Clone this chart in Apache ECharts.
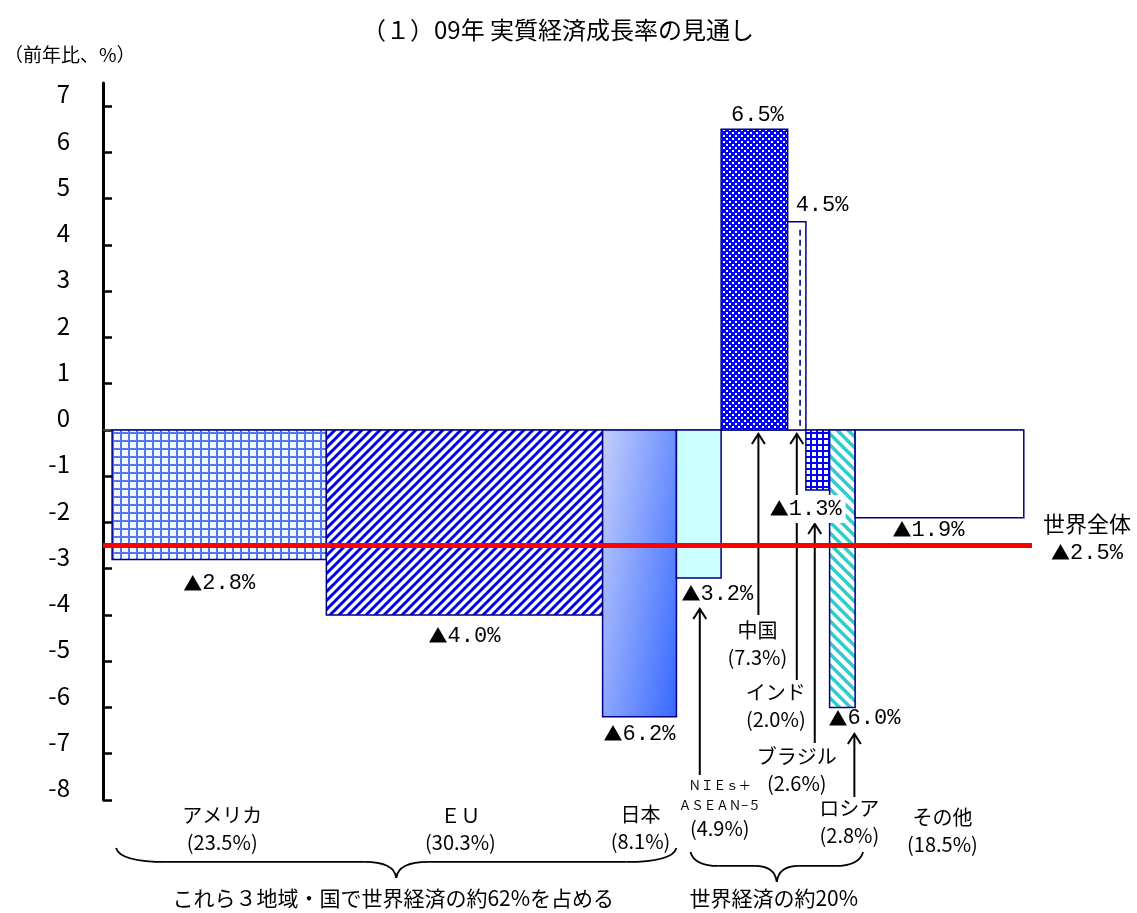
<!DOCTYPE html>
<html lang="ja">
<head>
<meta charset="utf-8">
<title>09年 実質経済成長率の見通し</title>
<script src="https://cdn.jsdelivr.net/npm/echarts@6/dist/echarts.min.js"></script>
<style>
  html, body { margin: 0; padding: 0; background: #fff; }
  #chart { width: 1137px; height: 913px; }
</style>
</head>
<body>
<div id="chart"></div>
<script>
  // データ
  const regions = ['アメリカ', 'ＥＵ', '日本', 'ＮＩＥｓ＋\nＡＳＥＡＮ−５', '中国', 'インド', 'ブラジル', 'ロシア', 'その他'];
  const shares = [23.5, 30.3, 8.1, 4.9, 7.3, 2.0, 2.6, 2.8, 18.5];     // 世界経済に占める割合（棒の幅）
  const growth = [-2.8, -4.0, -6.2, -3.2, 6.5, 4.5, -1.3, -6.0, -1.9];  // 09年 実質経済成長率
  const worldGrowth = -2.5;
  const yTicks = [-8, -7, -6, -5, -4, -3, -2, -1, 0, 1, 2, 3, 4, 5, 6, 7];
  const braceFrom = [0, 3];
  const braceTo = [2, 7];
  const braceText = ['これら３地域・国で世界経済の約62%を占める', '世界経済の約20%'];

  const JP = '"Noto Sans CJK JP", sans-serif';
  const MONO = '"Liberation Mono", "DejaVu Sans Mono", monospace';
  const NAVY = '#000080';

  // 塗りつぶしパターン
  function makePattern(size, draw) {
    const c = document.createElement('canvas');
    c.width = c.height = size;
    const ctx = c.getContext('2d');
    draw(ctx, size);
    return { image: c, repeat: 'repeat' };
  }
  const gridLight = makePattern(8, (ctx, s) => {
    ctx.fillStyle = '#f4f7ff'; ctx.fillRect(0, 0, s, s);
    ctx.fillStyle = '#4f78f2'; ctx.fillRect(0, 0, s, 2); ctx.fillRect(0, 0, 2, s);
  });
  const stripeUp = makePattern(9, (ctx, s) => {
    ctx.fillStyle = '#fff'; ctx.fillRect(0, 0, s, s);
    ctx.strokeStyle = '#0000ee'; ctx.lineWidth = 3;
    ctx.beginPath();
    ctx.moveTo(0, s); ctx.lineTo(s, 0);
    ctx.moveTo(-2, 2); ctx.lineTo(2, -2);
    ctx.moveTo(s - 2, s + 2); ctx.lineTo(s + 2, s - 2);
    ctx.stroke();
  });
  const stripeDown = makePattern(11, (ctx, s) => {
    ctx.fillStyle = '#fff'; ctx.fillRect(0, 0, s, s);
    ctx.strokeStyle = '#33cccc'; ctx.lineWidth = 3.5;
    ctx.beginPath();
    ctx.moveTo(0, 0); ctx.lineTo(s, s);
    ctx.moveTo(-2, s - 2); ctx.lineTo(2, s + 2);
    ctx.moveTo(s - 2, -2); ctx.lineTo(s + 2, 2);
    ctx.stroke();
  });
  const checker = makePattern(6, (ctx, s) => {
    ctx.fillStyle = '#0000ff'; ctx.fillRect(0, 0, s, s);
    ctx.fillStyle = '#ffffff'; ctx.fillRect(0, 0, 2, 2); ctx.fillRect(3, 3, 2, 2);
  });
  const gridDark = makePattern(6, (ctx, s) => {
    ctx.fillStyle = '#fff'; ctx.fillRect(0, 0, s, s);
    ctx.fillStyle = '#0000ff'; ctx.fillRect(0, 0, s, 2); ctx.fillRect(0, 0, 2, s);
  });
  // 日本：左上が淡く、右下が濃いグラデーション
  const gradJapan = {
    type: 'linear', x: 0, y: 0, x2: 1.62, y2: 0.07,
    colorStops: [{ offset: 0, color: '#c4cffb' }, { offset: 1, color: '#3366ff' }]
  };
  const fills = [gridLight, stripeUp, gradJapan, '#ccffff', checker, '#ffffff', gridDark, stripeDown, '#ffffff'];

  // ラベル・矢印の配置（px）
  // v: [dx, dy, 基準('c'=中央,'l'=左端), 白背景]   n: [dx, 1行目の中心 y(0線から)]   a: [dx, 下端, 先端]
  const layout = [
    { v: [0, 24, 'c'], n: [3, 385] },
    { v: [0, 21, 'c'], n: [-4, 385] },
    { v: [0, 17, 'c'], n: [1, 384] },
    { v: [5, 16, 'l'], n: [21, 355], a: [1, 345, 178] },
    { v: [3, -14, 'c'], n: [3, 200], a: [4, 185, 3] },
    { v: [8, -17, 'l'], n: [-21, 262], a: [0, 250, 3] },
    { v: [-12, 19, 'c', true], n: [-21, 326], a: [-3, 313, 93] },
    { v: [-1, 11, 'l'], n: [7, 378], a: [12, 367, 303] },
    { v: [-11, 12, 'c'], n: [3, 387] }
  ];

  const starts = [];
  let cum = 0;
  shares.forEach(s => { starts.push(cum); cum += s; });
  const barData = shares.map((s, i) => [starts[i], starts[i] + s, growth[i], i]);
  const braceData = braceFrom.map((f, k) => [starts[f], starts[braceTo[k]] + shares[braceTo[k]], k]);

  function fmtValue(v) {
    const num = Math.abs(v).toFixed(1) + '%';
    return v < 0 ? '{t|▲}{n|' + num + '}' : '{n|' + num + '}';
  }
  const valueRich = {
    t: { fontSize: 19, fontFamily: JP, fill: '#000' },
    n: { fontSize: 22, fontFamily: MONO, fill: '#000' }
  };

  function renderBar(params, api) {
    const i = api.value(3);
    const v = api.value(2);
    const p0 = api.coord([api.value(0), 0]);
    const p1 = api.coord([api.value(1), v]);
    const x = p0[0], w = p1[0] - p0[0];
    const y = Math.min(p0[1], p1[1]), h = Math.abs(p1[1] - p0[1]);
    const children = [{
      type: 'rect',
      shape: { x: x, y: y, width: w, height: h },
      style: { fill: fills[i], stroke: NAVY, lineWidth: 1.5 }
    }];
    if (i === 5) {
      // インド：点線
      const lx = x + w * 0.68;
      children.push({
        type: 'line',
        shape: { x1: lx, y1: y + 8, x2: lx, y2: y + h - 4 },
        style: { stroke: NAVY, lineWidth: 1.6, lineDash: [6, 4] }
      });
    }
    return { type: 'group', children: children };
  }

  function arrow(x, yBottom, yTip) {
    return [
      { type: 'line', shape: { x1: x, y1: yBottom, x2: x, y2: yTip + 1 }, style: { stroke: '#000', lineWidth: 2 } },
      { type: 'polyline', shape: { points: [[x - 6.5, yTip + 11], [x, yTip + 1], [x + 6.5, yTip + 11]] }, style: { stroke: '#000', lineWidth: 2, fill: null } }
    ];
  }

  function renderNotes(params, api) {
    const i = api.value(3);
    const v = api.value(2);
    const L = layout[i];
    const pL = api.coord([api.value(0), 0]);
    const pR = api.coord([api.value(1), v]);
    const zero = pL[1];
    const cx = (pL[0] + pR[0]) / 2;
    const children = [];
    if (L.a) arrow(cx + L.a[0], zero + L.a[1], zero + L.a[2]).forEach(e => children.push(e));

    // 成長率ラベル
    const vx = (L.v[2] === 'l' ? pL[0] : cx) + L.v[0];
    const valStyle = {
      text: fmtValue(v), rich: valueRich,
      align: L.v[2] === 'l' ? 'left' : 'center', verticalAlign: 'middle'
    };
    if (L.v[3]) { valStyle.backgroundColor = '#fff'; valStyle.padding = [3, 4, 3, 4]; }
    children.push({ type: 'text', x: vx, y: pR[1] + L.v[1], style: valStyle });

    // 地域名・シェア
    const name = regions[i];
    const share = '(' + shares[i].toFixed(1) + '%)';
    let txt, rich;
    if (name.indexOf('\n') >= 0) {
      txt = name.split('\n').map(s => '{s|' + s + '}').join('\n') + '\n{p|' + share + '}';
      rich = {
        s: { fontSize: 12.5, fontFamily: JP, fill: '#000', lineHeight: 20 },
        p: { fontSize: 20, fontFamily: JP, fill: '#000', lineHeight: 26 }
      };
      children.push({ type: 'text', x: cx + L.n[0], y: zero + L.n[1] - 10,
        style: { text: txt, rich: rich, align: 'center', verticalAlign: 'top' } });
    } else {
      txt = '{m|' + name + '}\n{p|' + share + '}';
      rich = {
        m: { fontSize: 20, fontFamily: JP, fill: '#000', lineHeight: 27 },
        p: { fontSize: 20, fontFamily: JP, fill: '#000', lineHeight: 27 }
      };
      children.push({ type: 'text', x: cx + L.n[0], y: zero + L.n[1] - 13.5,
        style: { text: txt, rich: rich, align: 'center', verticalAlign: 'top' } });
    }
    return { type: 'group', children: children };
  }

  function renderZero(params, api) {
    const a = api.coord([-1, 0]), b = api.coord([100, 0]);
    return { type: 'line', shape: { x1: a[0], y1: a[1], x2: b[0], y2: b[1] }, style: { stroke: '#555', lineWidth: 1.5 } };
  }

  function renderWorld(params, api) {
    const v = api.value(0);
    const a = api.coord([-1, v]), b = api.coord([100.9, v]);
    return {
      type: 'group',
      children: [
        { type: 'line', shape: { x1: a[0], y1: a[1], x2: b[0], y2: b[1] }, style: { stroke: '#ff0000', lineWidth: 5 } },
        { type: 'text', x: b[0] + 55, y: b[1] - 7, style: {
            text: '{w|世界全体}\n' + fmtValue(v),
            rich: { w: { fontSize: 22, fontFamily: JP, fill: '#000', lineHeight: 29 },
                    t: { fontSize: 19, fontFamily: JP, fill: '#000', lineHeight: 29 },
                    n: { fontSize: 22, fontFamily: MONO, fill: '#000', lineHeight: 29 } },
            align: 'center', verticalAlign: 'middle' } }
      ]
    };
  }

  function renderBrace(params, api) {
    const k = api.value(2);
    const p0 = api.coord([api.value(0), 0]);
    const p1 = api.coord([api.value(1), 0]);
    const zero = p0[1];
    const ins = k === 0 ? [4, 0] : [14, 8];
    const off = k === 0 ? 0 : 4;
    const x0 = p0[0] + ins[0], x1 = p1[0] + ins[1];
    const xm = (x0 + x1) / 2;
    const yTop = zero + 418 + off, yMid = zero + 432 + off, yTip = zero + 448 + off;
    const r = k === 0 ? 50 : 28, r2 = k === 0 ? 32 : 22;
    const st = { stroke: '#000', lineWidth: 1.8, fill: null };
    return {
      type: 'group',
      children: [
        { type: 'bezierCurve', shape: { x1: x0, y1: yTop, cpx1: x0 + 4, cpy1: yMid, x2: x0 + r, y2: yMid }, style: st },
        { type: 'line', shape: { x1: x0 + r, y1: yMid, x2: xm - r2, y2: yMid }, style: st },
        { type: 'bezierCurve', shape: { x1: xm - r2, y1: yMid, cpx1: xm - 2, cpy1: yMid, x2: xm, y2: yTip }, style: st },
        { type: 'bezierCurve', shape: { x1: xm, y1: yTip, cpx1: xm + 2, cpy1: yMid, x2: xm + r2, y2: yMid }, style: st },
        { type: 'line', shape: { x1: xm + r2, y1: yMid, x2: x1 - r, y2: yMid }, style: st },
        { type: 'bezierCurve', shape: { x1: x1 - r, y1: yMid, cpx1: x1 - 4, cpy1: yMid, x2: x1, y2: yTop }, style: st },
        { type: 'text', x: xm - 3, y: zero + 468, style: {
            text: braceText[k], fontSize: 21, fontFamily: JP, fill: '#000', align: 'center', verticalAlign: 'middle' } }
      ]
    };
  }

  const chart = echarts.init(document.getElementById('chart'), null, { renderer: 'canvas' });
  chart.setOption({
    animation: false,
    backgroundColor: '#fff',
    graphic: [
      { type: 'text', x: 558, y: 30, style: { text: '（１）09年 実質経済成長率の見通し', fontSize: 24, fontFamily: JP, fill: '#000', align: 'center', verticalAlign: 'middle' } },
      { type: 'text', x: 4, y: 55, style: { text: '（前年比、%）', fontSize: 19, fontFamily: JP, fill: '#000', verticalAlign: 'middle' } }
    ],
    grid: { left: 103, right: 105, top: 83, bottom: 113 },
    xAxis: { type: 'value', min: -1, max: 100.9, show: false },
    yAxis: {
      type: 'value', min: -8, max: 7.5,
      axisLine: { show: true, onZero: false, lineStyle: { color: '#000', width: 3 } },
      axisTick: { show: true, inside: true, length: 9, customValues: yTicks, lineStyle: { color: '#000', width: 2.5 } },
      axisLabel: { customValues: yTicks, fontSize: 24, fontFamily: JP, color: '#000', margin: 33, verticalAlign: 'bottom', lineHeight: 24 },
      splitLine: { show: false }
    },
    series: [
      { type: 'custom', renderItem: renderZero, data: [[0, 0]], encode: { x: 0, y: 1 }, z: 1, silent: true },
      { type: 'custom', renderItem: renderBar, data: barData, encode: { x: [0, 1], y: 2 }, z: 2, silent: true },
      { type: 'custom', renderItem: renderNotes, data: barData, encode: { x: [0, 1], y: 2 }, z: 3, silent: true },
      { type: 'custom', renderItem: renderWorld, data: [[worldGrowth]], encode: { y: 0 }, z: 4, silent: true },
      { type: 'custom', renderItem: renderBrace, data: braceData, encode: { x: [0, 1] }, z: 4, silent: true }
    ]
  });
</script>
</body>
</html>
